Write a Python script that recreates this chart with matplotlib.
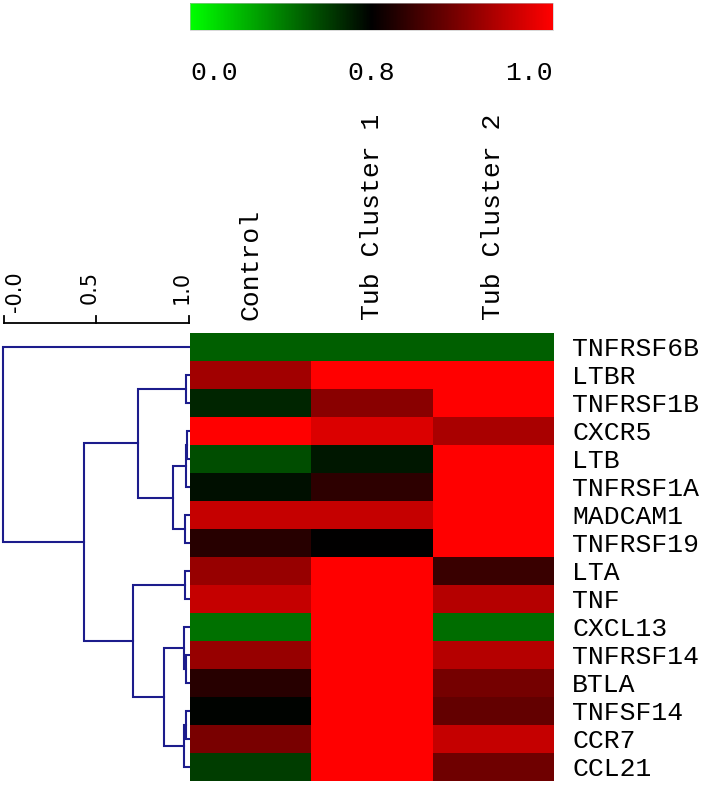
import matplotlib
matplotlib.use('Agg')
import matplotlib.pyplot as plt
import numpy as np
from matplotlib.colors import LinearSegmentedColormap, TwoSlopeNorm

# datos
genes = ["TNFRSF6B", "LTBR", "TNFRSF1B", "CXCR5", "LTB", "TNFRSF1A", "MADCAM1",
         "TNFRSF19", "LTA", "TNF", "CXCL13", "TNFRSF14", "BTLA", "TNFSF14",
         "CCR7", "CCL21"]
grupos = ["Control", "Tub Cluster 1", "Tub Cluster 2"]

control = [0.50, 0.925, 0.687, 1.00, 0.561, 0.750, 0.954, 0.831,
           0.918, 0.954, 0.449, 0.918, 0.831, 0.790, 0.894, 0.612]
tub1 = [0.50, 1.00, 0.907, 0.971, 0.725, 0.835, 0.954, 0.800,
        1.00, 1.00, 1.00, 1.00, 1.00, 1.00, 1.00, 1.00]
tub2 = [0.50, 1.00, 1.00, 0.932, 1.00, 1.00, 1.00, 1.00,
        0.844, 0.941, 0.461, 0.941, 0.891, 0.878, 0.954, 0.886]

# uniones del dendrograma: (nodo a, nodo b, similitud)
uniones = [
    (1, 2, 0.984), (3, 4, 0.990), (17, 5, 0.984), (6, 7, 0.978),
    (18, 19, 0.915), (16, 20, 0.724), (8, 9, 0.978), (11, 12, 0.982),
    (10, 23, 0.975), (13, 14, 0.982), (25, 15, 0.975), (24, 26, 0.865),
    (22, 27, 0.696), (21, 28, 0.432), (0, 29, -0.004),
]
escala_ticks = [0.0, 0.5, 1.0]
escala_labels = ["-0.0", "0.5", "1.0"]
cbar_ticks = [0.0, 0.8, 1.0]

W, H = 711, 785
fig = plt.figure(figsize=(W / 100, H / 100), dpi=100)

def caja(x0, y0, x1, y1):
    return [x0 / W, 1 - y1 / H, (x1 - x0) / W, (y1 - y0) / H]

mono = "Liberation Mono"
fs = 19
cmap = LinearSegmentedColormap.from_list("gnr", ["#00ff00", "#000000", "#ff0000"])
norm = TwoSlopeNorm(vmin=0.0, vcenter=0.8, vmax=1.0)

# heatmap
ax = fig.add_axes(caja(190, 333, 554, 781))
datos = np.column_stack([control, tub1, tub2])
im = ax.pcolormesh(np.arange(4), np.arange(17), datos, cmap=cmap, norm=norm)
ax.set_xlim(0, 3)
ax.set_ylim(16, 0)
for s in ax.spines.values():
    s.set_visible(False)
ax.xaxis.tick_top()
ax.set_xticks(np.arange(3) + 0.5)
ax.set_xticklabels(grupos, rotation=90, fontfamily=mono, fontsize=fs)
ax.yaxis.tick_right()
ax.set_yticks(np.arange(16) + 0.5)
ax.set_yticklabels(genes, fontfamily=mono, fontsize=fs)
ax.tick_params(length=0)
ax.tick_params(axis='x', pad=9)
ax.tick_params(axis='y', pad=13)

# dendrograma
axd = fig.add_axes(caja(0, 250, 190, 781))
axd.set_xlim(-4 / 185, 186 / 185)
axd.set_ylim(16, -83 / 28)
axd.axis('off')

pos = {i: (1.0, i + 0.5) for i in range(len(genes))}
azul = "#1c1c8c"
for k, (a, b, h) in enumerate(uniones):
    xa, ya = pos[a]
    xb, yb = pos[b]
    axd.plot([xa, h, h, xb], [ya, ya, yb, yb], color=azul, lw=1.5,
             solid_joinstyle='miter')
    pos[len(genes) + k] = (h, (ya + yb) / 2)

# escala
yb = -10 / 28
axd.plot([0, 1], [yb, yb], color="black", lw=1.3)
for t, lab in zip(escala_ticks, escala_labels):
    axd.plot([t, t], [yb, yb - 7 / 28], color="black", lw=1.3)
    if t == 0:
        axd.text(t + 0.003, yb - 11 / 28, lab, rotation=90, ha='left',
                 va='bottom', fontsize=15)
    else:
        axd.text(t + 0.015, yb - 19 / 28, lab, rotation=90, ha='right',
                 va='bottom', fontsize=15)

# barra de color
cax = fig.add_axes(caja(190, 3, 553, 30))
cb = fig.colorbar(im, cax=cax, orientation='horizontal')
cb.outline.set_linewidth(0.4)
cb.outline.set_edgecolor("#bbbbbb")
cb.set_ticks(cbar_ticks)
cb.set_ticklabels(["%.1f" % t for t in cbar_ticks])
cax.tick_params(length=0, pad=22)
for lab in cax.get_xticklabels():
    lab.set_fontfamily(mono)
    lab.set_fontsize(fs)
labs = cax.get_xticklabels()
labs[0].set_ha('left')
labs[-1].set_ha('right')

fig.savefig("out.png", dpi=100)
